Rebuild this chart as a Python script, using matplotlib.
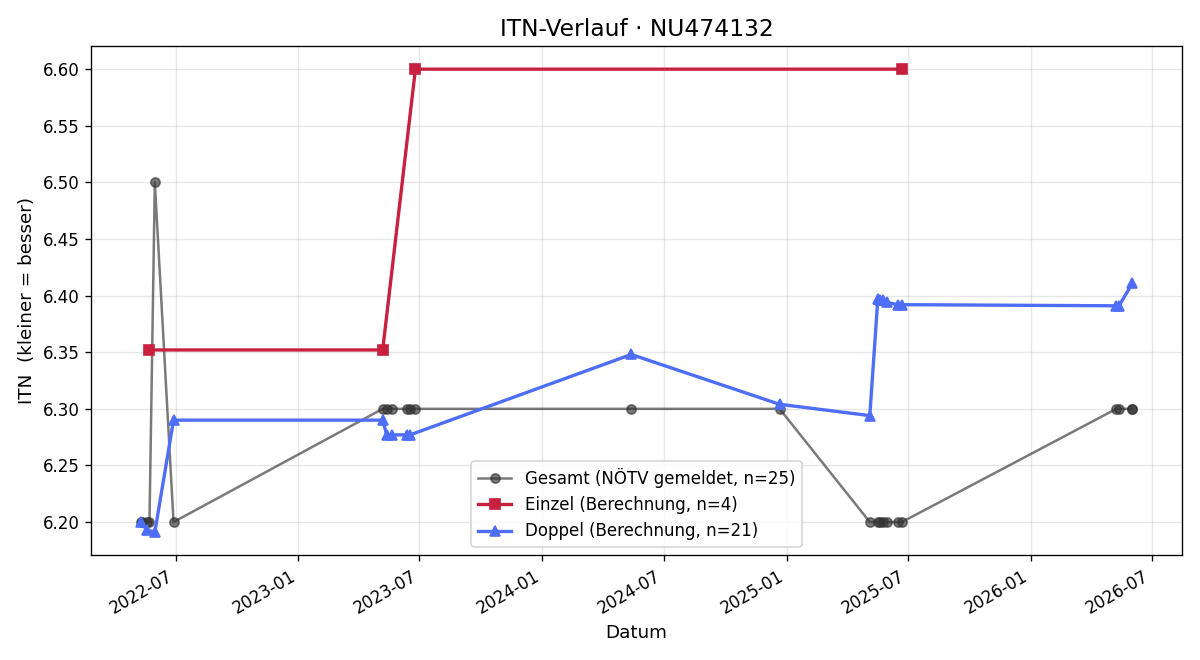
import numpy as np
import pandas as pd
import matplotlib
matplotlib.use("Agg")
import matplotlib.pyplot as plt
import matplotlib.dates as mdates

# Gesamt (NÖTV gemeldet)
gesamt_dates = ["2022-05-10", "2022-05-12", "2022-05-19", "2022-05-23", "2022-05-31", "2022-06-28",
                "2023-05-07", "2023-05-13", "2023-05-21", "2023-06-12", "2023-06-17", "2023-06-25",
                "2024-05-13", "2024-12-21",
                "2025-05-05", "2025-05-17", "2025-05-20", "2025-05-24", "2025-05-30", "2025-06-16", "2025-06-22",
                "2026-05-09", "2026-05-13", "2026-06-02", "2026-06-02"]
gesamt_itn = [6.20, 6.20, 6.20, 6.20, 6.50, 6.20,
              6.30, 6.30, 6.30, 6.30, 6.30, 6.30,
              6.30, 6.30,
              6.20, 6.20, 6.20, 6.20, 6.20, 6.20, 6.20,
              6.30, 6.30, 6.30, 6.30]

# Einzel (Berechnung)
einzel_dates = ["2022-05-23", "2023-05-07", "2023-06-25", "2025-06-22"]
einzel_itn = [6.352, 6.352, 6.600, 6.600]

# Doppel (Berechnung)
doppel_dates = ["2022-05-10", "2022-05-19", "2022-05-31", "2022-06-28",
                "2023-05-07", "2023-05-13", "2023-05-21", "2023-06-12", "2023-06-17",
                "2024-05-13", "2024-12-21",
                "2025-05-05", "2025-05-17", "2025-05-20", "2025-05-24", "2025-05-30", "2025-06-16", "2025-06-22",
                "2026-05-09", "2026-05-13", "2026-06-02"]
doppel_itn = [6.200, 6.193, 6.191, 6.290,
              6.290, 6.277, 6.277, 6.277, 6.277,
              6.348, 6.304,
              6.294, 6.397, 6.396, 6.396, 6.394, 6.392, 6.392,
              6.391, 6.391, 6.411]

fig, ax = plt.subplots(figsize=(10, 5.5), dpi=120)

ax.plot(pd.to_datetime(gesamt_dates), gesamt_itn, marker="o", markersize=5.5,
        color="#333333", alpha=0.65, linewidth=1.5,
        label=f"Gesamt (NÖTV gemeldet, n={len(gesamt_itn)})")
ax.plot(pd.to_datetime(einzel_dates), einzel_itn, marker="s", markersize=6,
        color="#c8203f", linewidth=2,
        label=f"Einzel (Berechnung, n={len(einzel_itn)})")
ax.plot(pd.to_datetime(doppel_dates), doppel_itn, marker="^", markersize=6,
        color="#4f6ef7", linewidth=2,
        label=f"Doppel (Berechnung, n={len(doppel_itn)})")

ax.set_title("ITN-Verlauf · NU474132", fontsize=14)
ax.set_xlabel("Datum", fontsize=11)
ax.set_ylabel("ITN  (kleiner = besser)", fontsize=11)
ax.grid(True, alpha=0.3)
ax.xaxis.set_major_locator(mdates.MonthLocator(bymonth=[1, 7]))
ax.xaxis.set_major_formatter(mdates.DateFormatter("%Y-%m"))
ax.yaxis.set_major_formatter(plt.FormatStrFormatter("%.2f"))
ax.legend(loc="lower center")
fig.autofmt_xdate()
fig.tight_layout()
fig.savefig("out.png")
